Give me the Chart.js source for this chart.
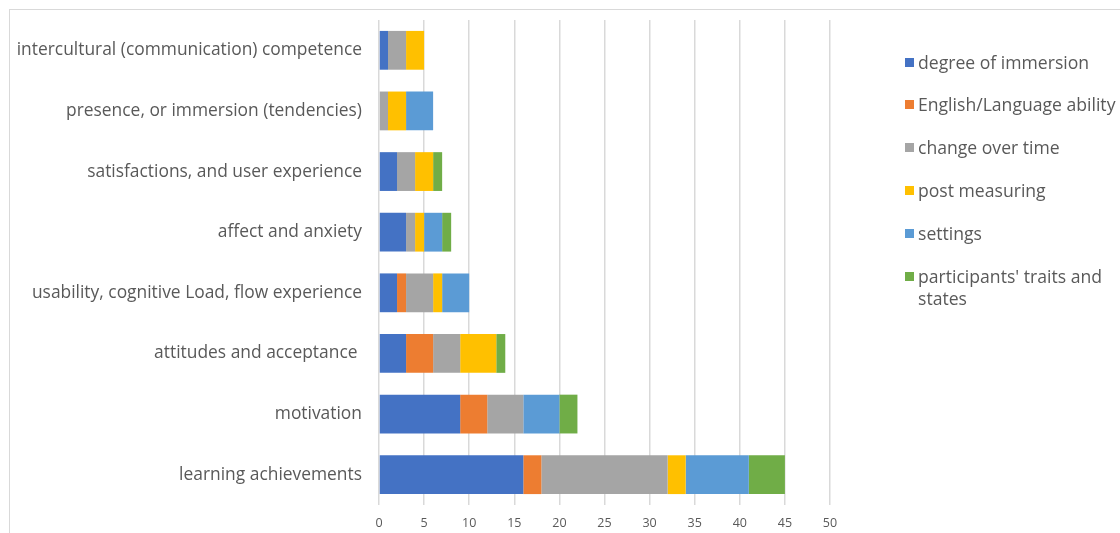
<!DOCTYPE html>
<html><head><meta charset="utf-8">
<script src="https://cdn.jsdelivr.net/npm/chart.js@4.4.1/dist/chart.umd.min.js"></script>
<style>
html,body{margin:0;padding:0;background:#fff;}
#wrap{position:relative;width:1120px;height:533px;overflow:hidden;}
#frame{position:absolute;left:9px;top:9px;width:1200px;height:600px;border:1px solid #d9d9d9;box-sizing:border-box;}
#c{position:absolute;left:0;top:0;}
#legend{position:absolute;left:905px;top:0;font-family:"Open Sans",sans-serif;font-size:17.6px;color:#595959;}
.li{position:absolute;left:0;white-space:nowrap;line-height:22px;}
.sw{position:absolute;left:0;width:9px;height:9px;}
.tx{position:absolute;left:13px;}
</style></head>
<body><div id="wrap"><div id="frame"></div><canvas id="c" width="1120" height="533"></canvas><div id="legend"></div></div>
<script>
const categories = ["intercultural (communication) competence","presence, or immersion (tendencies)","satisfactions, and user experience","affect and anxiety","usability, cognitive Load, flow experience","attitudes and acceptance ","motivation","learning achievements"];
const seriesNames = ["degree of immersion","English/Language ability","change over time","post measuring","settings","participants' traits and states"];
const degreeOfImmersion = [1,0,2,3,2,3,9,16];
const languageAbility   = [0,0,0,0,1,3,3,2];
const changeOverTime    = [2,1,2,1,3,3,4,14];
const postMeasuring     = [2,2,2,1,1,4,0,2];
const settings          = [0,3,0,2,3,0,4,7];
const traitsStates      = [0,0,1,1,0,1,2,4];
const xTicks = [0,5,10,15,20,25,30,35,40,45,50];
const colors = ["#4472C4","#ED7D31","#A5A5A5","#FFC000","#5B9BD5","#70AD47"];
const values = [degreeOfImmersion,languageAbility,changeOverTime,postMeasuring,settings,traitsStates];

const datasets = values.map((v,i)=>({label:seriesNames[i],data:v,backgroundColor:colors[i],borderWidth:0,barPercentage:0.64,categoryPercentage:1}));

new Chart(document.getElementById('c'),{
  type:'bar',
  data:{labels:categories,datasets},
  options:{
    indexAxis:'y',responsive:false,animation:false,
    layout:{padding:{left:0,right:290,top:20,bottom:0}},
    plugins:{legend:{display:false},tooltip:{enabled:false}},
    scales:{
      x:{stacked:true,min:0,max:50,
        afterBuildTicks:s=>{s.ticks=xTicks.map(v=>({value:v}));},
        afterFit:s=>{s.height=28;s.paddingLeft=0;s.paddingRight=0;},
        grid:{color:'#d9d9d9',lineWidth:1.5,drawTicks:false},
        border:{display:false},
        ticks:{padding:11,color:'#595959',font:{family:'"Open Sans", sans-serif',size:12.5}}},
      y:{stacked:true,
        afterFit:s=>{s.width=379;s.paddingTop=0;s.paddingBottom=0;},
        grid:{display:false},border:{display:false},
        ticks:{padding:9,color:'#595959',font:{family:'"Open Sans", sans-serif',size:17.4}}}
    }
  }
});

const lg=document.getElementById('legend');
const ys=[62,104,147,190,233,276];
seriesNames.forEach((n,i)=>{
  const d=document.createElement('div');d.className='li';d.style.top=(ys[i]-11)+'px';
  const sw=document.createElement('div');sw.className='sw';sw.style.background=colors[i];sw.style.top='7px';
  const tx=document.createElement('div');tx.className='tx';
  if(i===5){tx.innerHTML="participants' traits and<br>states";}else tx.textContent=n;
  d.appendChild(sw);d.appendChild(tx);lg.appendChild(d);
});
</script></body></html>
